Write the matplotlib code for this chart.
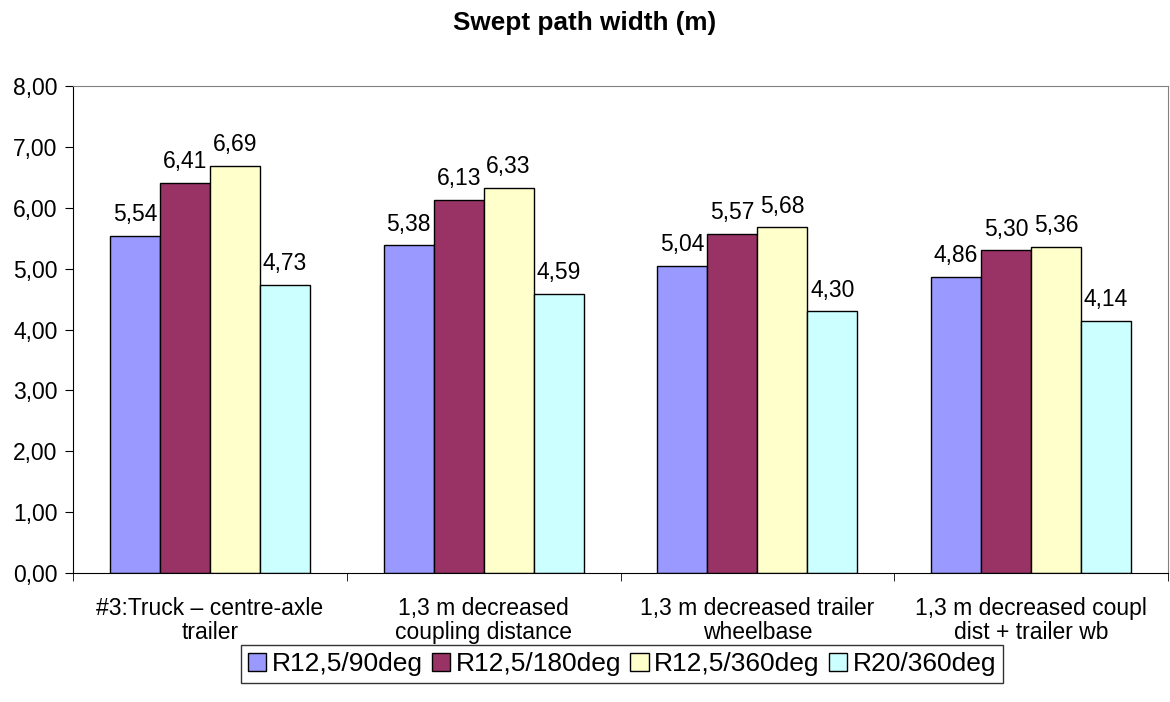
import matplotlib
matplotlib.use("Agg")
import matplotlib.pyplot as plt
import numpy as np
from matplotlib.patches import Patch

plt.rcParams['font.family'] = ['Liberation Sans', 'DejaVu Sans']

categories = ["#3:Truck – centre-axle\ntrailer", "1,3 m decreased\ncoupling distance",
              "1,3 m decreased trailer\nwheelbase", "1,3 m decreased coupl\ndist + trailer wb"]
series_names = ["R12,5/90deg", "R12,5/180deg", "R12,5/360deg", "R20/360deg"]
values = [
    [5.54, 5.38, 5.04, 4.86],
    [6.41, 6.13, 5.57, 5.30],
    [6.69, 6.33, 5.68, 5.36],
    [4.73, 4.59, 4.30, 4.14],
]
colors = ["#9999FF", "#993366", "#FFFFCC", "#CCFFFF"]
yticks = [0, 1, 2, 3, 4, 5, 6, 7, 8]

FS = 16.5

fig = plt.figure(figsize=(11.7, 7.02), dpi=100)
ax = fig.add_axes([73/1170, 1-573/702, (1168-73)/1170, (573-86)/702])

n = len(categories)
w = 0.1825
x = np.arange(n)
for i, (name, vals, c) in enumerate(zip(series_names, values, colors)):
    xs = x + (i - 1.5) * w
    ax.bar(xs, vals, width=w, color=c, edgecolor="black", linewidth=1.0, label=name)
    for xi, v in zip(xs, vals):
        ax.annotate(f"{v:.2f}".replace(".", ","), (xi, v), xytext=(0, 7), textcoords="offset points",
                    ha="center", va="bottom", fontsize=FS)

ax.set_xlim(-0.5, n - 0.5)
ax.set_ylim(0, 8)
ax.set_yticks(yticks)
ax.set_yticklabels([f"{t:.2f}".replace(".", ",") for t in yticks], fontsize=FS)
ax.set_xticks(x)
ax.set_xticklabels(categories, fontsize=FS, linespacing=1.05)
ax.tick_params(axis="x", length=0, pad=17)
ax.set_xticks(np.arange(n + 1) - 0.5, minor=True)
ax.tick_params(axis="x", which="minor", length=6, direction="out")
ax.tick_params(axis="y", length=6, direction="out", pad=5)
for s in ["top", "right"]:
    ax.spines[s].set_color("#808080")
for s in ["left", "bottom"]:
    ax.spines[s].set_color("black")

fig.text(0.5, 1-23/702, "Swept path width (m)", ha="center", va="center", fontsize=18.8, fontweight="bold")

handles = [Patch(facecolor=c, edgecolor="black", label=nm) for c, nm in zip(colors, series_names)]
leg = fig.legend(handles=handles, loc="center", bbox_to_anchor=(622/1170, 1-664/702), ncol=4,
                 fontsize=19, frameon=True, fancybox=False, edgecolor="black",
                 handlelength=0.7, handleheight=0.7, handletextpad=0.2, columnspacing=0.35,
                 borderpad=0.25, borderaxespad=0)
leg.get_frame().set_linewidth(1.0)

fig.savefig("out.png", dpi=100)
